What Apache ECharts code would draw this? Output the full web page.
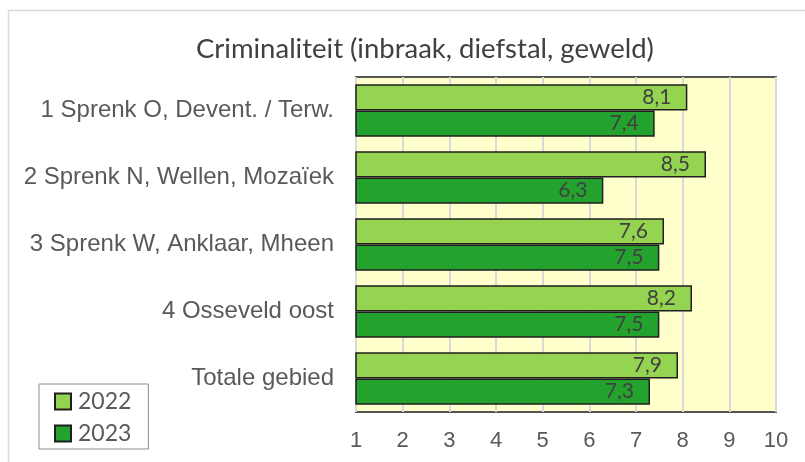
<!DOCTYPE html>
<html>
<head>
<meta charset="utf-8">
<script src="https://cdn.jsdelivr.net/npm/echarts@6/dist/echarts.min.js"></script>
<style>
  html, body { margin: 0; padding: 0; background: #fff; }
  #chart { width: 805px; height: 462px; }
</style>
</head>
<body>
<div id="chart"></div>
<script>
const categories = [
  '1 Sprenk O, Devent. / Terw.',
  '2 Sprenk N, Wellen, Mozaïek',
  '3 Sprenk W, Anklaar, Mheen',
  '4 Osseveld oost',
  'Totale gebied'
];
const values2022 = [8.1, 8.5, 7.6, 8.2, 7.9];
const values2023 = [7.4, 6.3, 7.5, 7.5, 7.3];
const seriesNames = ['2022', '2023'];
const colors = ['#94D451', '#24A22E'];

const fmt = p => String(p.value).replace('.', ',');

function barSeries(name, data, color) {
  return {
    name: name,
    type: 'bar',
    data: data,
    barGap: '0%',
    barCategoryGap: '22%',
    itemStyle: { color: color, borderColor: '#1f1f1f', borderWidth: 1.5 },
    label: {
      show: true,
      position: 'insideRight',
      distance: 16,
      formatter: fmt,
      color: '#404040',
      fontFamily: 'Lato',
      fontSize: 21
    }
  };
}

const chart = echarts.init(document.getElementById('chart'));
chart.setOption({
  animation: false,
  title: {
    text: 'Criminaliteit (inbraak, diefstal, geweld)',
    left: 191,
    top: 30,
    textStyle: { fontFamily: 'Lato', fontSize: 27.5, fontWeight: 'normal', color: '#404040' }
  },
  legend: {
    orient: 'vertical',
    left: 39,
    top: 384,
    itemWidth: 16,
    itemHeight: 16,
    itemGap: 9,
    padding: [6, 17, 4, 15],
    borderColor: '#8c8c8c',
    borderWidth: 1,
    icon: 'rect',
    textStyle: { fontFamily: 'Lato', fontSize: 23, color: '#595959', padding: [0, 0, 0, 2] },
    data: seriesNames
  },
  grid: { left: 356, top: 77, right: 29, bottom: 50, containLabel: false,
          show: true, backgroundColor: '#FFFFCC', borderColor: '#555', borderWidth: 2 },
  xAxis: {
    type: 'value',
    min: 1,
    max: 10,
    interval: 1,
    axisLine: { show: false },
    axisTick: { show: false },
    splitLine: { show: true, lineStyle: { color: '#D9D9D9', width: 2 } },
    axisLabel: { fontFamily: 'Liberation Sans', fontSize: 22, color: '#595959', margin: 18 }
  },
  yAxis: {
    type: 'category',
    inverse: true,
    data: categories,
    axisLine: { show: false },
    axisTick: { show: false },
    axisLabel: { fontFamily: 'Liberation Sans', fontSize: 24, color: '#595959', margin: 22 }
  },
  graphic: [{
    type: 'rect',
    shape: { x: 8.5, y: 10.5, width: 900, height: 600 },
    style: { fill: 'none', stroke: '#d9d9d9', lineWidth: 1.5 },
    silent: true
  }],
  series: [
    barSeries(seriesNames[0], values2022, colors[0]),
    barSeries(seriesNames[1], values2023, colors[1])
  ]
});
</script>
</body>
</html>
